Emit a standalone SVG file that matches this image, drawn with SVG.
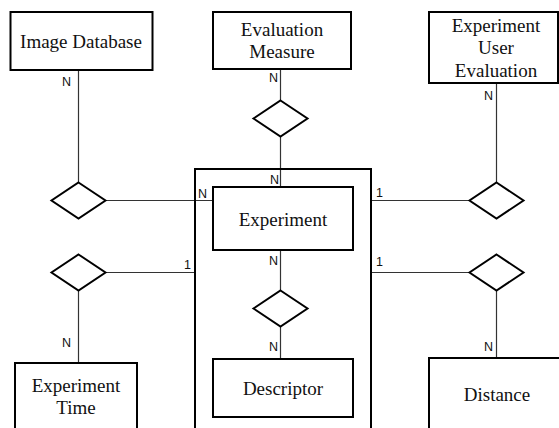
<svg xmlns="http://www.w3.org/2000/svg" width="559" height="428" viewBox="0 0 559 428">
<defs>
<polygon id="diamond" points="0,-18 27,0 0,18 -27,0" fill="#fff" stroke="#000" stroke-width="2"/>
</defs>
<rect width="559" height="428" fill="#fff"/>
<g id="connectors" stroke="#333" stroke-width="1.2" fill="none">
<line x1="78.5" y1="70" x2="78.5" y2="182.5"/>
<line x1="105.5" y1="200.5" x2="213" y2="200.5"/>
<line x1="280.5" y1="69" x2="280.5" y2="100.5"/>
<line x1="280.5" y1="136.5" x2="280.5" y2="187"/>
<line x1="496.5" y1="83" x2="496.5" y2="182.5"/>
<line x1="371" y1="200.5" x2="469.5" y2="200.5"/>
<line x1="105.5" y1="272.5" x2="195" y2="272.5"/>
<line x1="78.5" y1="290.5" x2="78.5" y2="363"/>
<line x1="280.5" y1="250" x2="280.5" y2="290.5"/>
<line x1="280.5" y1="326.5" x2="280.5" y2="359"/>
<line x1="371" y1="272.5" x2="469.5" y2="272.5"/>
<line x1="496.5" y1="290.5" x2="496.5" y2="358"/>
<g font-family="Liberation Sans, Arial, sans-serif" font-size="12.5" fill="#111" stroke="none">
<text x="62" y="86">N</text>
<text x="269" y="82">N</text>
<text x="270" y="183.5">N</text>
<text x="198" y="198">N</text>
<text x="376" y="197">1</text>
<text x="484" y="100">N</text>
<text x="184" y="269">1</text>
<text x="62" y="347">N</text>
<text x="269" y="265">N</text>
<text x="269" y="351">N</text>
<text x="376" y="266">1</text>
<text x="484" y="351">N</text>
</g>
</g>
<g id="experiment-group">
<rect x="195" y="169" width="176" height="270" fill="none" stroke="#000" stroke-width="2"/>
</g>
<g font-family="Liberation Serif, Times New Roman, serif" font-size="19" text-anchor="middle">
<g stroke="#000" stroke-width="2" fill="#fff">
<g id="image-database">
<rect x="10.5" y="12" width="142" height="58"/>
<text x="81" y="48" fill="#111" stroke="none">Image Database</text>
</g>
<g id="evaluation-measure">
<rect x="213" y="12" width="138" height="57"/>
<text x="282" y="36" fill="#111" stroke="none">Evaluation</text>
<text x="282" y="58" fill="#111" stroke="none">Measure</text>
</g>
<g id="experiment-user-evaluation">
<rect x="429" y="12" width="129" height="71"/>
<text x="496" y="32" fill="#111" stroke="none">Experiment</text>
<text x="496" y="54" fill="#111" stroke="none">User</text>
<text x="496" y="77" fill="#111" stroke="none">Evaluation</text>
</g>
<g id="experiment">
<rect x="213" y="187" width="140" height="63"/>
<text x="283" y="226" fill="#111" stroke="none">Experiment</text>
</g>
<g id="descriptor">
<rect x="213" y="359" width="140" height="58"/>
<text x="283" y="395" fill="#111" stroke="none">Descriptor</text>
</g>
<g id="experiment-time">
<rect x="15" y="363" width="122" height="80"/>
<text x="76" y="392" fill="#111" stroke="none">Experiment</text>
<text x="76" y="414" fill="#111" stroke="none">Time</text>
</g>
<g id="distance">
<rect x="429" y="358" width="140" height="80"/>
<text x="497" y="401" fill="#111" stroke="none">Distance</text>
</g>
</g>
</g>
<g id="rel-image-database"><use href="#diamond" x="78.5" y="200.5"/></g>
<g id="rel-evaluation-measure"><use href="#diamond" x="280.5" y="118.5"/></g>
<g id="rel-user-evaluation"><use href="#diamond" x="496.5" y="200.5"/></g>
<g id="rel-experiment-time"><use href="#diamond" x="78.5" y="272.5"/></g>
<g id="rel-descriptor"><use href="#diamond" x="280.5" y="308.5"/></g>
<g id="rel-distance"><use href="#diamond" x="496.5" y="272.5"/></g>
</svg>
